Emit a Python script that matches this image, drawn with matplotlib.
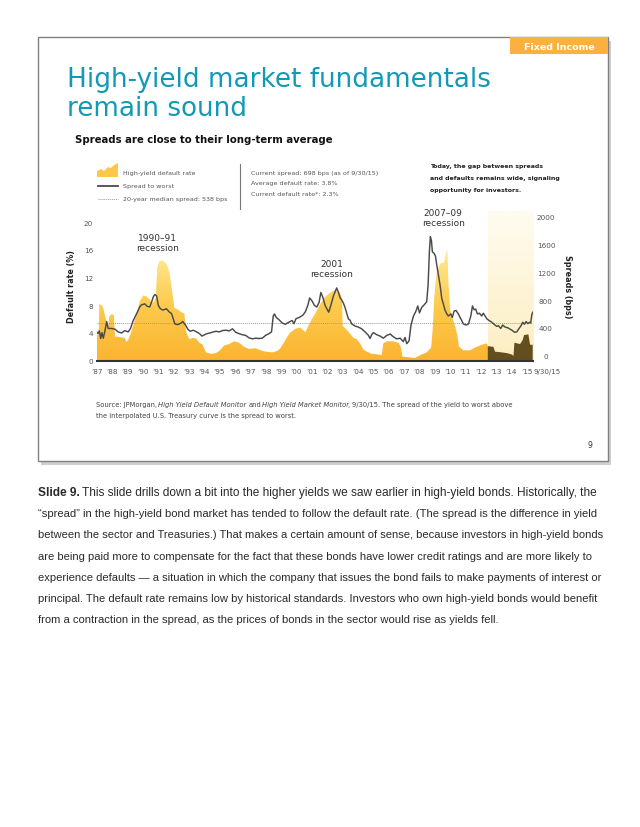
import numpy as np
import matplotlib
matplotlib.use('Agg')
import matplotlib.pyplot as plt
from matplotlib.patches import Rectangle, Polygon
from matplotlib.colors import LinearSegmentedColormap

# high-yield default rate (%)
dr_year = [1987.00, 1987.13, 1987.17, 1987.32, 1987.43, 1987.54, 1987.65, 1987.75, 1987.82, 1987.97,
           1988.12, 1988.19, 1988.51, 1988.83, 1988.94, 1989.05, 1989.16, 1989.37, 1989.59, 1989.80,
           1990.02, 1990.23, 1990.45, 1990.66, 1990.84, 1990.94, 1991.09, 1991.31, 1991.53, 1991.63,
           1991.74, 1991.85, 1991.96, 1992.06, 1992.28, 1992.50, 1992.71, 1992.82, 1993.03, 1993.25,
           1993.47, 1993.68, 1993.90, 1994.11, 1994.44, 1994.76, 1994.97, 1995.30, 1995.62, 1995.94,
           1996.27, 1996.59, 1996.91, 1997.34, 1997.67, 1997.99, 1998.42, 1998.75, 1998.96, 1999.18,
           1999.39, 1999.61, 1999.93, 2000.25, 2000.58, 2000.79, 2001.01, 2001.22, 2001.55, 2001.87,
           2002.19, 2002.52, 2002.84, 2002.97, 2003.01, 2003.27, 2003.49, 2003.71, 2003.93, 2004.14,
           2004.36, 2004.58, 2004.90, 2005.34, 2005.55, 2005.66, 2005.88, 2006.31, 2006.64, 2006.79,
           2006.90, 2007.29, 2007.72, 2008.05, 2008.48, 2008.77, 2008.87, 2008.98, 2009.13, 2009.35,
           2009.61, 2009.74, 2009.83, 2009.89, 2010.00, 2010.18, 2010.33, 2010.48, 2010.59, 2010.87,
           2011.30, 2011.63, 2012.06, 2012.39, 2012.45, 2012.82, 2012.93, 2013.37, 2013.69, 2014.02,
           2014.13, 2014.19, 2014.56, 2014.73, 2014.82, 2015.10, 2015.21, 2015.38]
dr_pct = [3.6, 3.8, 8.2, 8.0, 7.6, 6.5, 5.6, 5.0, 6.4, 6.7,
          6.6, 3.5, 3.4, 3.3, 2.7, 3.0, 3.6, 5.0, 6.6, 8.6,
          9.4, 9.3, 8.8, 8.3, 9.0, 13.5, 14.4, 14.4, 14.0, 13.5,
          12.6, 11.0, 9.2, 7.6, 7.4, 7.0, 6.8, 4.2, 3.1, 3.3,
          3.2, 2.6, 2.3, 1.2, 1.0, 1.1, 1.4, 2.2, 2.4, 2.8,
          2.6, 2.0, 1.7, 1.8, 1.5, 1.3, 1.2, 1.4, 1.8, 2.6,
          3.4, 4.1, 4.6, 4.8, 4.1, 5.1, 6.0, 6.8, 8.2, 9.2,
          9.8, 10.2, 9.8, 9.0, 5.0, 4.5, 3.9, 3.3, 3.1, 2.5,
          1.6, 1.3, 1.0, 0.9, 0.8, 2.5, 2.8, 2.8, 2.6, 2.0,
          0.6, 0.5, 0.4, 0.8, 1.2, 1.9, 4.5, 9.5, 12.8, 14.0,
          14.2, 15.5, 16.0, 11.5, 7.4, 6.0, 5.0, 3.6, 2.0, 1.5,
          1.5, 1.9, 2.3, 2.5, 2.1, 2.0, 1.3, 1.2, 1.1, 0.9,
          0.7, 2.6, 2.4, 3.0, 3.7, 3.8, 2.3, 2.3]

# spread to worst (bps)
sp_year = [1987.00, 1987.09, 1987.17, 1987.26, 1987.34, 1987.43, 1987.54, 1987.65, 1987.75, 1987.97,
           1988.19, 1988.40, 1988.62, 1988.83, 1989.05, 1989.20, 1989.37, 1989.59, 1989.80, 1989.91,
           1990.13, 1990.28, 1990.45, 1990.58, 1990.69, 1990.79, 1990.90, 1991.01, 1991.14, 1991.31,
           1991.53, 1991.74, 1991.87, 1991.98, 1992.09, 1992.28, 1992.50, 1992.60, 1992.78, 1992.93,
           1993.08, 1993.29, 1993.51, 1993.72, 1993.85, 1994.11, 1994.44, 1994.76, 1994.97, 1995.19,
           1995.41, 1995.62, 1995.84, 1996.05, 1996.27, 1996.48, 1996.70, 1996.91, 1997.13, 1997.34,
           1997.56, 1997.78, 1997.99, 1998.21, 1998.38, 1998.49, 1998.57, 1998.68, 1998.85, 1999.07,
           1999.28, 1999.50, 1999.72, 1999.84, 1999.97, 2000.19, 2000.41, 2000.58, 2000.75, 2000.86,
           2001.01, 2001.18, 2001.33, 2001.48, 2001.59, 2001.72, 2001.87, 2002.10, 2002.23, 2002.41,
           2002.62, 2002.73, 2002.84, 2002.95, 2003.06, 2003.17, 2003.27, 2003.38, 2003.49, 2003.60,
           2003.82, 2004.03, 2004.25, 2004.47, 2004.58, 2004.69, 2004.79, 2004.90, 2005.01, 2005.23,
           2005.45, 2005.66, 2005.77, 2005.88, 2006.10, 2006.31, 2006.53, 2006.75, 2006.96, 2007.07,
           2007.18, 2007.33, 2007.46, 2007.62, 2007.77, 2007.90, 2008.01, 2008.16, 2008.33, 2008.48,
           2008.57, 2008.66, 2008.72, 2008.79, 2008.85, 2008.96, 2009.05, 2009.13, 2009.24, 2009.35,
           2009.46, 2009.57, 2009.68, 2009.79, 2009.89, 2010.05, 2010.15, 2010.26, 2010.39, 2010.54,
           2010.70, 2010.87, 2011.04, 2011.20, 2011.35, 2011.46, 2011.56, 2011.67, 2011.78, 2011.91,
           2012.06, 2012.17, 2012.28, 2012.39, 2012.54, 2012.72, 2012.87, 2013.04, 2013.15, 2013.30,
           2013.43, 2013.58, 2013.76, 2013.91, 2014.06, 2014.19, 2014.34, 2014.49, 2014.62, 2014.73,
           2014.84, 2014.95, 2015.06, 2015.17, 2015.25, 2015.32, 2015.38]
sp_bps = [415, 390, 430, 320, 405, 325, 435, 565, 465, 465,
          455, 415, 400, 435, 415, 465, 575, 675, 775, 805,
          820, 785, 775, 850, 925, 955, 935, 800, 750, 730,
          750, 700, 680, 605, 530, 520, 545, 565, 515, 455,
          425, 440, 415, 385, 355, 385, 405, 425, 415, 435,
          440, 430, 460, 410, 390, 375, 365, 330, 315, 325,
          320, 325, 365, 390, 415, 645, 675, 625, 595, 545,
          525, 555, 580, 535, 605, 625, 655, 705, 805, 905,
          865, 795, 775, 845, 985, 915, 795, 700, 790, 935,
          1050, 990, 910, 875, 830, 765, 690, 605, 585, 530,
          500, 485, 460, 415, 390, 365, 320, 375, 405, 375,
          355, 325, 345, 365, 385, 345, 315, 325, 275, 335,
          245, 285, 515, 645, 710, 790, 690, 770, 810, 850,
          1090, 1590, 1790, 1730, 1570, 1550, 1510, 1390, 1240, 1090,
          900, 810, 725, 675, 645, 675, 625, 715, 725, 675,
          605, 530, 515, 530, 645, 790, 735, 745, 675, 685,
          645, 685, 645, 605, 580, 555, 525, 495, 505, 465,
          515, 485, 475, 455, 435, 410, 415, 465, 505, 555,
          525, 565, 535, 555, 545, 660, 698]

median_spread = 538
current_start = 2012.45
year_ticks = list(range(1987, 2016))
year_labels = ['\u2019' + str(y)[2:] for y in year_ticks]
left_ticks = [0, 4, 8, 12, 16, 20]
right_ticks = [0, 400, 800, 1200, 1600, 2000]

legend_left = ['High-yield default rate', 'Spread to worst', '20-year median spread: 538 bps']
legend_right = ['Current spread: 698 bps (as of 9/30/15)', 'Average default rate: 3.8%',
                'Current default rate*: 2.3%']
callout = ['Today, the gap between spreads', 'and defaults remains wide, signaling',
           'opportunity for investors.']
body_lines = [
    'This slide drills down a bit into the higher yields we saw earlier in high-yield bonds. Historically, the',
    '\u201cspread\u201d in the high-yield bond market has tended to follow the default rate. (The spread is the difference in yield',
    'between the sector and Treasuries.) That makes a certain amount of sense, because investors in high-yield bonds',
    'are being paid more to compensate for the fact that these bonds have lower credit ratings and are more likely to',
    'experience defaults \u2014 a situation in which the company that issues the bond fails to make payments of interest or',
    'principal. The default rate remains low by historical standards. Investors who own high-yield bonds would benefit',
    'from a contraction in the spread, as the prices of bonds in the sector would rise as yields fell.',
]
# right edge (px) of each full body line in the reference
body_ends = [597, 601, 600, 590, 598, 597]

plt.rcParams['font.family'] = ['DejaVu Sans']
body_font = 'Liberation Sans'

W, H = 640, 828
fig = plt.figure(figsize=(6.4, 8.28), dpi=100)
renderer = fig.canvas.get_renderer()


def fx(x):
    return x / W


def fy(y):
    return 1 - y / H


def run_text(x, y, parts, size, color, family=None):
    # draw pieces of differently styled text one after another on one line
    for s, kw in parts:
        t = fig.text(fx(x), fy(y), s, fontsize=size, color=color, va='baseline',
                     family=family, **kw)
        bb = t.get_window_extent(renderer=renderer)
        x = bb.x1 + size * 0.3


# slide frame with shadow (drawn below the axes)
fig.patches.append(Rectangle((fx(41), fy(466)), fx(570), 424 / H, transform=fig.transFigure,
                             facecolor='#cfcfcf', edgecolor='none', zorder=-3))
fig.patches.append(Rectangle((fx(38), fy(462)), fx(570), 424 / H, transform=fig.transFigure,
                             facecolor='white', edgecolor='#808080', lw=1.0, zorder=-2))
fig.patches.append(Rectangle((fx(510), fy(55)), fx(98), 17 / H, transform=fig.transFigure,
                             facecolor='#FBB040', edgecolor='none', zorder=1))
fig.text(fx(559), fy(47), 'Fixed Income', color='white', fontsize=6.8, fontweight='bold',
         ha='center', va='center')

fig.text(fx(67), fy(80), 'High-yield market fundamentals', color='#1199B5', fontsize=18.9,
         va='center')
fig.text(fx(67), fy(109), 'remain sound', color='#1199B5', fontsize=18.9, va='center')
fig.text(fx(75), fy(140), 'Spreads are close to their long-term average', color='#111111',
         fontsize=7.3, fontweight='bold', va='center')

# legend
icon = [(97, 178), (97, 172), (101, 170), (104, 172), (108, 168), (111, 169), (114, 166),
        (118, 164), (118, 178)]
fig.patches.append(Polygon([(fx(a), fy(b)) for a, b in icon], closed=True,
                           transform=fig.transFigure, facecolor='#FDC84A', edgecolor='none'))
fig.add_artist(plt.Line2D([fx(98), fx(118)], [fy(187), fy(187)], color='#4a4a4a', lw=1.3))
fig.add_artist(plt.Line2D([fx(98), fx(118)], [fy(200), fy(200)], color='#9a9a9a', lw=0.7,
                          ls=(0, (1, 1))))
for i, s in enumerate(legend_left):
    fig.text(fx(123), fy(173 + 13.5 * i), s, color='#555555', fontsize=4.6, va='center')
fig.add_artist(plt.Line2D([fx(240), fx(240)], [fy(165), fy(210)], color='#777777', lw=0.8))
for i, s in enumerate(legend_right):
    fig.text(fx(251), fy(173 + 11 * i), s, color='#555555', fontsize=4.6, va='center')
for i, s in enumerate(callout):
    fig.text(fx(430), fy(166.5 + 12 * i), s, color='#222222', fontsize=4.5, fontweight='bold',
             va='center')

# chart
ax = fig.add_axes([fx(96.7), fy(361.7), 436 / W, 149.7 / H])
ax.patch.set_alpha(0)
x0, x1 = dr_year[0], dr_year[-1]
ytop = 21.6
yr = np.array(dr_year)
dr = np.array(dr_pct)
past = yr <= current_start
now = yr >= current_start

shade = LinearSegmentedColormap.from_list('shade', ['#FDEEC2', '#FFFCF0'])
ax.imshow(np.linspace(0, 1, 64).reshape(-1, 1), extent=[current_start, x1, 0, ytop],
          origin='lower', cmap=shade, aspect='auto', zorder=0)

poly = ax.fill_between(yr[past], dr[past], 0, facecolor='none', edgecolor='none')
gold = LinearSegmentedColormap.from_list('gold', ['#FBB431', '#FDCB4E', '#FFEC9A'])
im = ax.imshow(np.linspace(0, 1, 256).reshape(-1, 1), extent=[x0, current_start, 0, 16.2],
               origin='lower', cmap=gold, aspect='auto', zorder=1)
im.set_clip_path(poly.get_paths()[0], transform=ax.transData)
ax.fill_between(yr[now], dr[now], 0, facecolor='#634E1E', edgecolor='none', zorder=1)

ax.axhline(median_spread / 100, color='#9a9a9a', lw=0.7, ls=(0, (1, 1)), zorder=2)
ax.plot(sp_year, np.array(sp_bps) / 100, color='#4a4a4a', lw=1.05, zorder=3)

ax.set_xlim(x0, x1)
ax.set_ylim(0, ytop)
ax.set_xticks(year_ticks)
ax.set_xticklabels(year_labels)
ax.set_yticks(left_ticks)
ax.tick_params(length=0, labelsize=5.2, labelcolor='#555555')
ax.tick_params(axis='x', pad=5.5)
ax.tick_params(axis='y', pad=2.5)
for side in ['left', 'right', 'top']:
    ax.spines[side].set_visible(False)
ax.spines['bottom'].set_color('#333333')
ax.spines['bottom'].set_linewidth(1.5)
ax.spines['bottom'].set_zorder(4)
ax.set_ylabel('Default rate (%)', fontsize=5.8, fontweight='bold', color='#222222', labelpad=6)
ax.text(2016.3, -0.05, '9/30/15', transform=ax.get_xaxis_transform(), ha='center', va='top',
        fontsize=5.0, color='#555555')

ax2 = ax.twinx()
ax2.patch.set_alpha(0)
ax2.set_ylim(-72, 2082)
ax2.set_yticks(right_ticks)
ax2.tick_params(length=0, labelsize=5.2, labelcolor='#555555', pad=9.5)
for lab in ax2.get_yticklabels():
    lab.set_horizontalalignment('center')
for side in ['left', 'right', 'top', 'bottom']:
    ax2.spines[side].set_visible(False)
ax2.set_ylabel('Spreads (bps)', fontsize=5.8, fontweight='bold', color='#222222', rotation=-90,
               labelpad=12)

ax.text(1990.93, 17.1, '1990\u201391\nrecession', ha='center', va='center', fontsize=6.5,
        color='#333333', linespacing=1.15)
ax.text(2002.32, 13.3, '2001\nrecession', ha='center', va='center', fontsize=6.5,
        color='#333333', linespacing=1.15)
ax.text(2009.55, 20.6, '2007\u201309\nrecession', ha='center', va='center', fontsize=6.5,
        color='#333333', linespacing=1.15, clip_on=False)

# source note with italic titles
run_text(96, 407, [('Source: JPMorgan,', {}), ('High Yield Default Monitor', {'style': 'italic'}),
                   ('and', {}), ('High Yield Market Monitor,', {'style': 'italic'}),
                   ('9/30/15. The spread of the yield to worst above', {})], 4.85, '#444444')
fig.text(fx(96), fy(418), 'the interpolated U.S. Treasury curve is the spread to worst.',
         fontsize=4.85, color='#444444', va='baseline')
fig.text(fx(590), fy(446), '9', fontsize=5.5, color='#333333', ha='center', va='center')

# body text, each full line sized to end where the reference line ends
sizes = []
for i, line in enumerate(body_lines[:-1]):
    probe = fig.text(0, 0, ('Slide 9. ' if i == 0 else '') + line, fontsize=10, family=body_font)
    w = probe.get_window_extent(renderer=renderer).width
    probe.remove()
    sizes.append(10 * (body_ends[i] - 38) / w)
sizes.append(float(np.mean(sizes)))
for i, line in enumerate(body_lines):
    yb = 496 + 21.2 * i
    if i == 0:
        run_text(38, yb, [('Slide 9.', {'fontweight': 'bold'}), (line, {})], sizes[i], '#2a2a2a',
                 family=body_font)
    else:
        fig.text(fx(38), fy(yb), line, fontsize=sizes[i], color='#2a2a2a', va='baseline',
                 family=body_font)

fig.savefig('out.png', dpi=100)
